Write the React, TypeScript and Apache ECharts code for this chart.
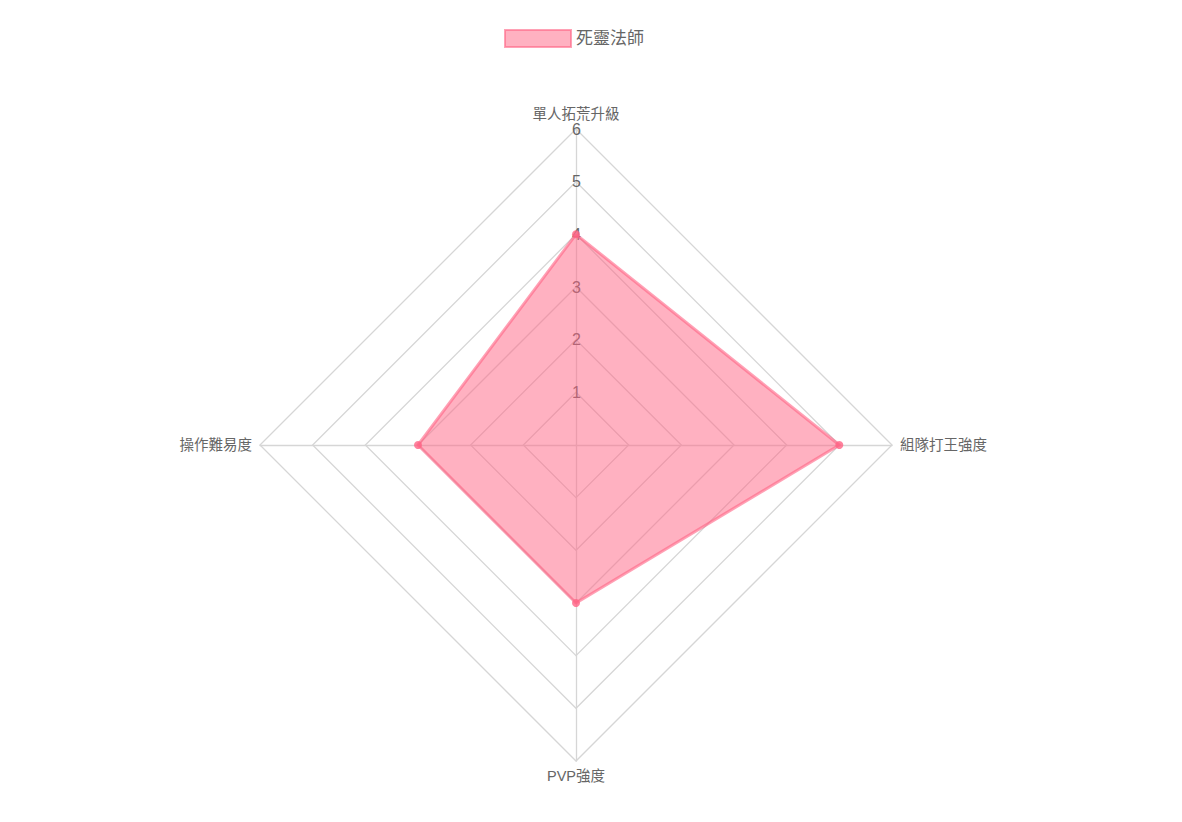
import React, { useEffect, useRef } from 'react';
import * as echarts from 'echarts';

// order goes counter-clockwise from the top, as echarts draws radar axes
const indicators = ['單人拓荒升級', '操作難易度', 'PVP強度', '組隊打王強度'];
const seriesName = '死靈法師';
const values = [4, 3, 3, 5];
const maxValue = 6;

const App: React.FC = () => {
  const chartRef = useRef<HTMLDivElement>(null);

  useEffect(() => {
    if (!chartRef.current) return;
    const chart = echarts.init(chartRef.current, null, { renderer: 'svg' });

    const font = '"Liberation Sans", "Noto Sans CJK TC", sans-serif';

    const option: echarts.EChartsOption = {
      animation: false,
      textStyle: { fontFamily: font },
      legend: {
        top: 24,
        left: 499,
        icon: 'rect',
        itemWidth: 66,
        itemHeight: 17,
        itemStyle: {
          color: 'rgba(255, 99, 132, 0.5)',
          borderColor: 'rgba(255, 99, 132, 0.6)',
          borderWidth: 2
        },
        textStyle: { color: '#666', fontSize: 17, fontFamily: font },
        data: [seriesName]
      },
      radar: {
        center: [576, 445],
        radius: 316,
        shape: 'polygon',
        startAngle: 90,
        splitNumber: 6,
        nameGap: 8,
        axisName: { color: '#666', fontSize: 14.5, fontFamily: font },
        splitArea: { show: false },
        splitLine: { lineStyle: { color: '#d6d6d6', width: 1.3 } },
        axisLine: { lineStyle: { color: '#d6d6d6', width: 1.3 } },
        axisLabel: { show: false },
        indicator: indicators.map((name, i) => ({
          name,
          min: 0,
          max: maxValue,
          ...(i === 0
            ? {
                axisLabel: {
                  show: true,
                  showMinLabel: false,
                  color: '#666',
                  fontSize: 16,
                  margin: -5,
                  fontFamily: font
                }
              }
            : {})
        }))
      },
      series: [
        {
          name: seriesName,
          type: 'radar',
          symbol: 'circle',
          symbolSize: 8,
          itemStyle: { color: 'rgba(255, 99, 132, 0.8)' },
          lineStyle: { color: 'rgba(255, 99, 132, 0.6)', width: 3 },
          areaStyle: { color: 'rgba(255, 99, 132, 0.5)', opacity: 1 },
          data: [{ value: values, name: seriesName }]
        }
      ]
    };

    chart.setOption(option);
    return () => chart.dispose();
  }, []);

  return (
    <div
      ref={chartRef}
      style={{ position: 'absolute', left: 0, top: 0, width: 1182, height: 822 }}
    />
  );
};

export default App;
